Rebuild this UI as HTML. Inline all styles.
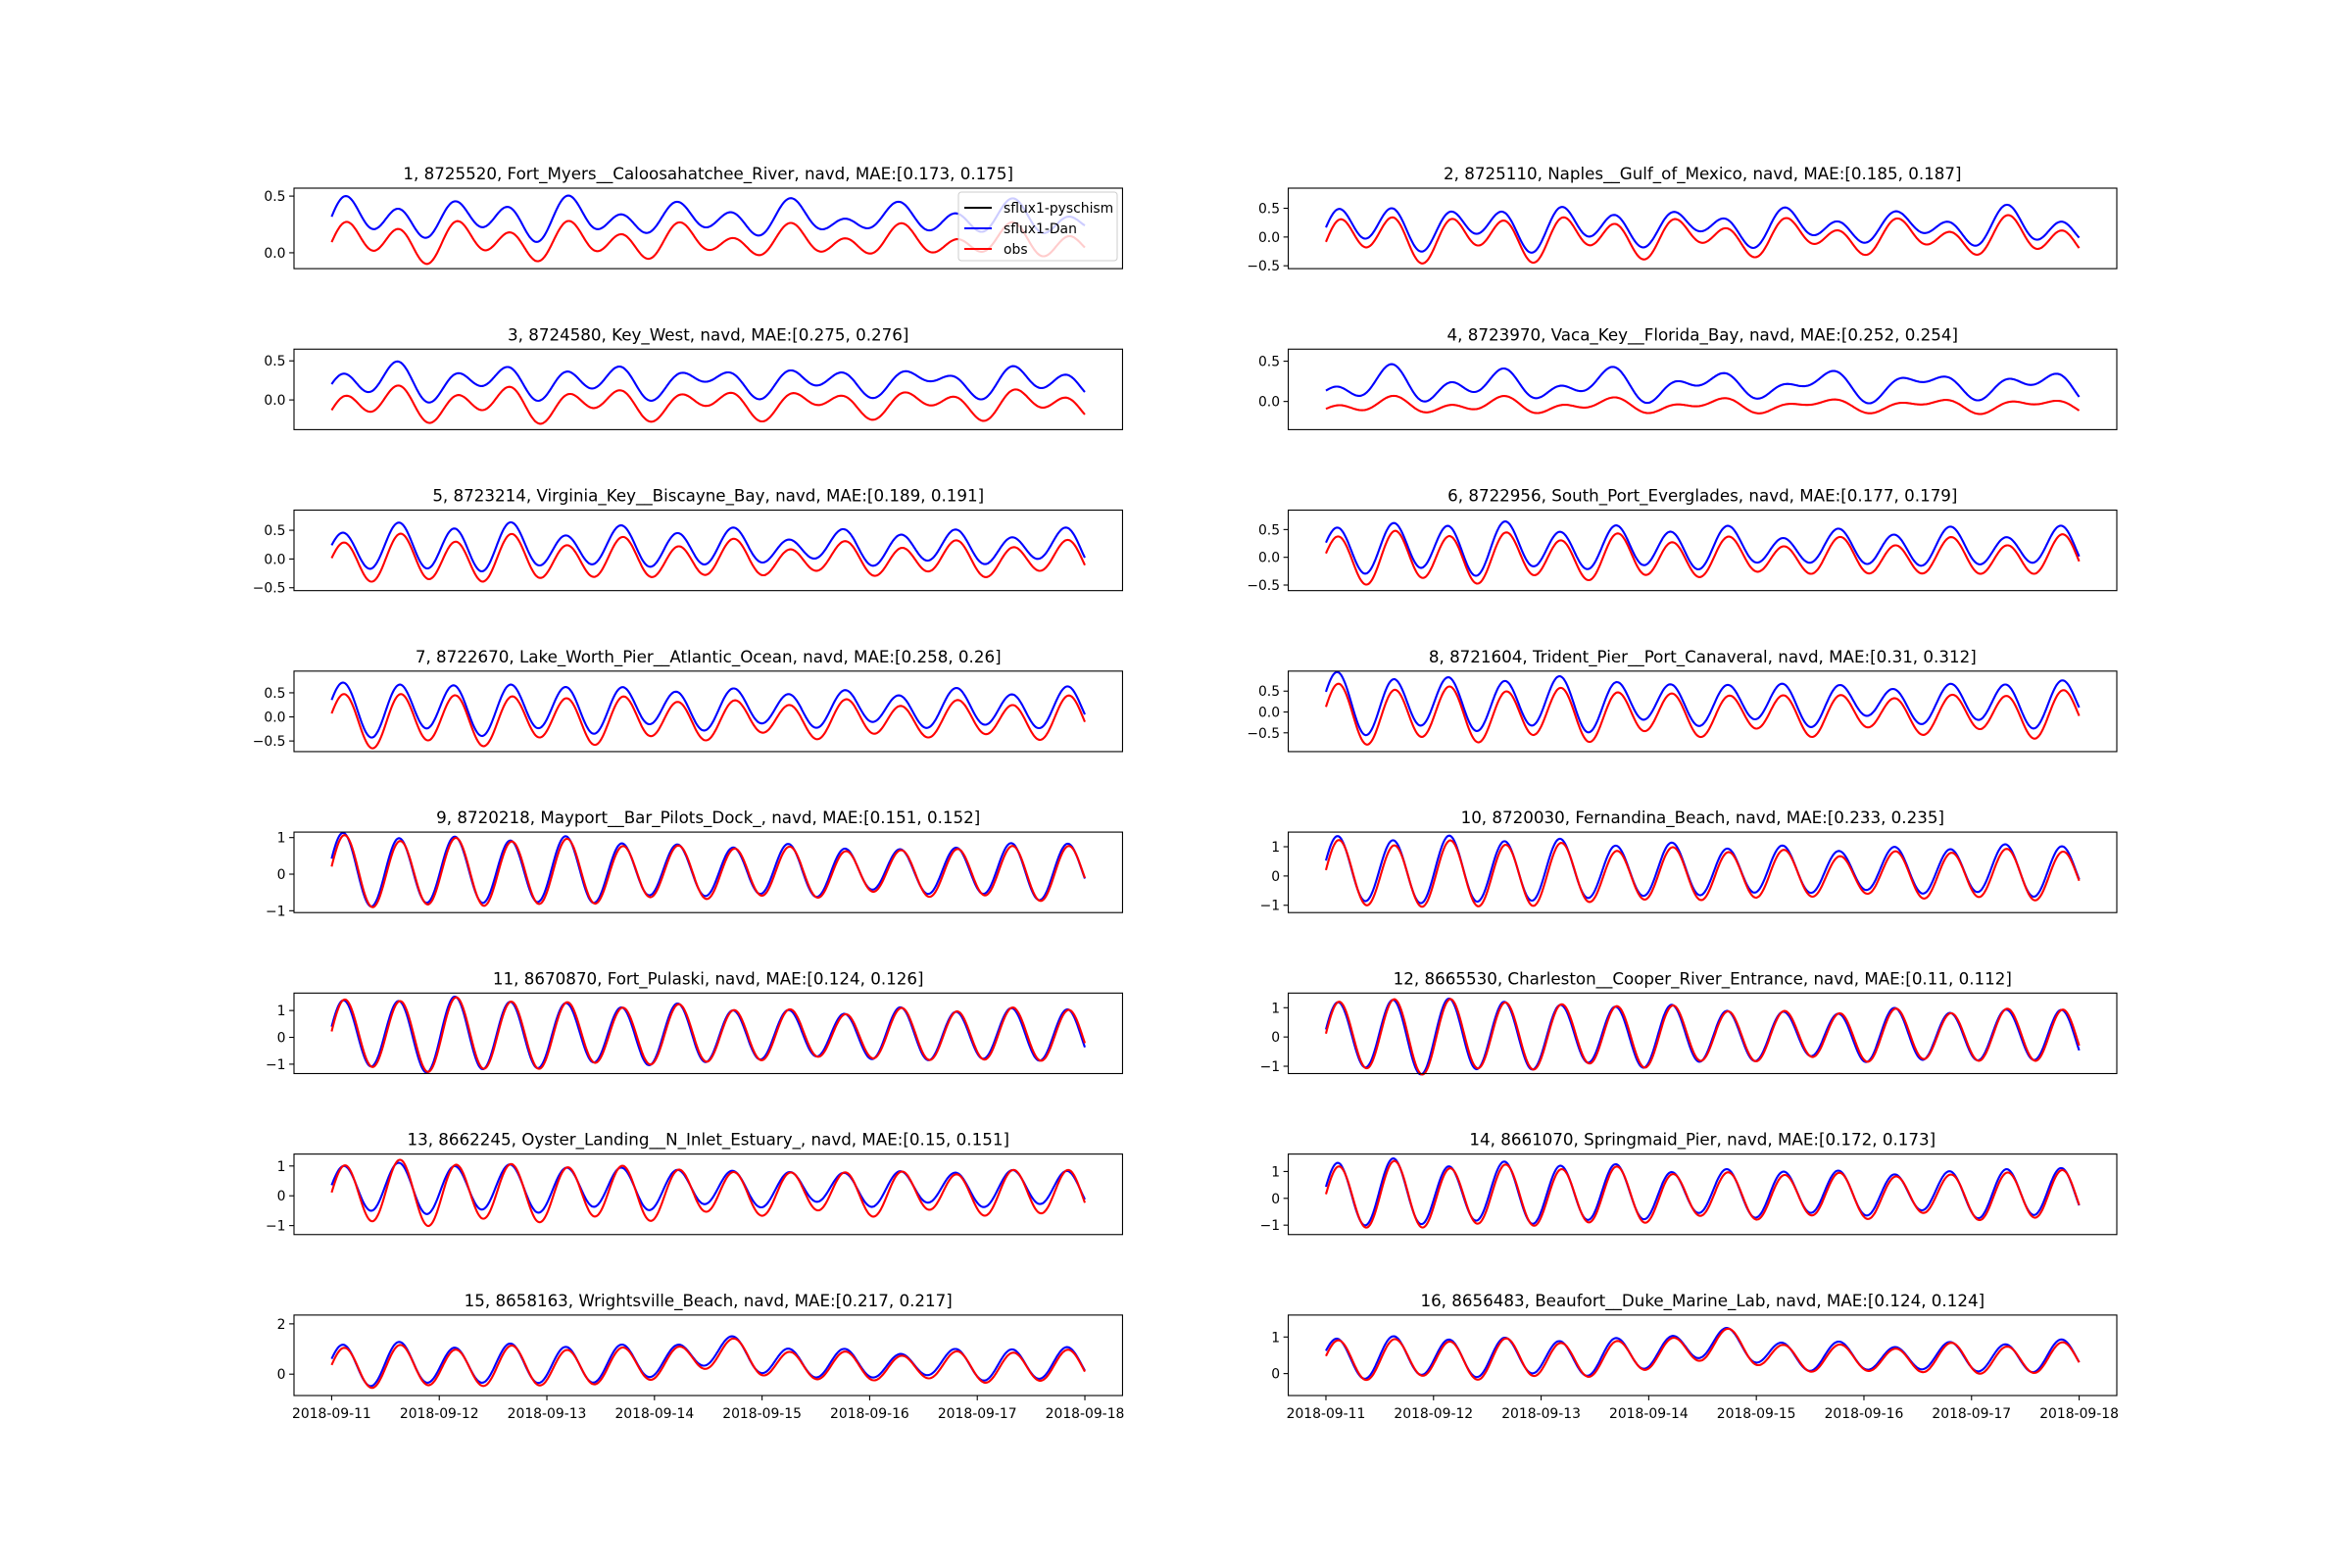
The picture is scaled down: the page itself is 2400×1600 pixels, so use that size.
<!DOCTYPE html>
<html><head><meta charset="utf-8"><style>
html,body{margin:0;padding:0;background:#fff;}
svg{display:block;}
text{font-family:"DejaVu Sans","Liberation Sans",sans-serif;}
</style></head><body>
<svg id="s" width="2400" height="1600" xmlns="http://www.w3.org/2000/svg"></svg>
<script>
var titles=[
"1, 8725520, Fort_Myers__Caloosahatchee_River, navd, MAE:[0.173, 0.175]",
"2, 8725110, Naples__Gulf_of_Mexico, navd, MAE:[0.185, 0.187]",
"3, 8724580, Key_West, navd, MAE:[0.275, 0.276]",
"4, 8723970, Vaca_Key__Florida_Bay, navd, MAE:[0.252, 0.254]",
"5, 8723214, Virginia_Key__Biscayne_Bay, navd, MAE:[0.189, 0.191]",
"6, 8722956, South_Port_Everglades, navd, MAE:[0.177, 0.179]",
"7, 8722670, Lake_Worth_Pier__Atlantic_Ocean, navd, MAE:[0.258, 0.26]",
"8, 8721604, Trident_Pier__Port_Canaveral, navd, MAE:[0.31, 0.312]",
"9, 8720218, Mayport__Bar_Pilots_Dock_, navd, MAE:[0.151, 0.152]",
"10, 8720030, Fernandina_Beach, navd, MAE:[0.233, 0.235]",
"11, 8670870, Fort_Pulaski, navd, MAE:[0.124, 0.126]",
"12, 8665530, Charleston__Cooper_River_Entrance, navd, MAE:[0.11, 0.112]",
"13, 8662245, Oyster_Landing__N_Inlet_Estuary_, navd, MAE:[0.15, 0.151]",
"14, 8661070, Springmaid_Pier, navd, MAE:[0.172, 0.173]",
"15, 8658163, Wrightsville_Beach, navd, MAE:[0.217, 0.217]",
"16, 8656483, Beaufort__Duke_Marine_Lab, navd, MAE:[0.124, 0.124]"];
var P=[
[-0.14,0.57,[0,0.5],0.1,0.13,0.07,0.2,1.0,1],
[-0.55,0.85,[-0.5,0,0.5],0.0,0.3,0.15,0.17,0.95,1],
[-0.38,0.65,[0,0.5],-0.05,0.16,0.1,0.28,1.0,1],
[-0.35,0.65,[0,0.5],-0.05,0.06,0.06,0.25,2.0,1],
[-0.55,0.85,[-0.5,0,0.5],0.0,0.35,0.08,0.2,1.0,1],
[-0.6,0.85,[-0.5,0,0.5],0.0,0.4,0.08,0.17,1.0,1],
[-0.72,0.95,[-0.5,0,0.5],-0.05,0.48,0.08,0.22,1.0,1],
[-0.95,0.98,[-0.5,0,0.5],-0.05,0.6,0.1,0.25,1.0,1],
[-1.05,1.15,[-1,0,1],0.05,0.88,0.06,0.05,1.0,0],
[-1.25,1.5,[-1,0,1],0.05,1.05,0.08,0.15,1.0,0],
[-1.35,1.65,[-1,0,1],0.1,1.25,0.08,0.0,1.0,0],
[-1.25,1.5,[-1,0,1],0.05,1.15,0.08,0.0,1.0,0],
[-1.3,1.4,[-1,0,1],0.1,0.95,0.1,0.15,0.8,0],
[-1.35,1.65,[-1,0,1],0.1,1.1,0.1,0.1,1.0,0],
[-0.85,2.35,[0,2],0.3,0.75,0.08,0.1,1.0,0],
[-0.6,1.6,[0,1],0.4,0.5,0.06,0.05,1.0,0]];
var S=document.getElementById('s'),out='';
var W=845.45,H=82.13;
function fmt(v,f){return f?(v<0?'\u2212':'')+Math.abs(v).toFixed(1):(v<0?'\u2212':'')+Math.abs(v).toFixed(0);}
for(var i=0;i<16;i++){
 var r=Math.floor(i/2),c=i%2,L=c?1314.55:300,T=192+r*164.27,p=P[i];
 var ylo=p[0],yhi=p[1];
 function Y(v){return T+H-(v-ylo)/(yhi-ylo)*H;}
 function X(d){return L+(d+0.35)/7.7*W;}
 var red='',blue='';
 function sig(t){
  var env=0.88+0.18*Math.cos(2*Math.PI*(t-0.5)/9)+0.04*Math.sin(i+t*3);
  var o=p[3]+p[4]*env*Math.cos(2*Math.PI*(t-0.12)/0.5175)+p[5]*Math.cos(2*Math.PI*(t-0.3-0.1*i)/1.0);
  if(i==14){o+=0.5*Math.exp(-Math.pow((t-3.6)/0.5,2));}
  if(i==15){o+=0.4*Math.exp(-Math.pow((t-3.6)/0.5,2));}
  return o;}
 for(var k=0;k<=700;k++){
  var t=k/100;
  var o=sig(t),o2=sig(t+0.012);
  var m=p[3]+p[6]+(o2-p[3])*p[7]+0.03*Math.sin(t*9+i);
  red+=(k?'L':'M')+X(t).toFixed(1)+' '+Y(o).toFixed(1);
  blue+=(k?'L':'M')+X(t).toFixed(1)+' '+Y(m).toFixed(1);
 }
 out+='<path d="'+blue+'" fill="none" stroke="#0000ff" stroke-width="2.1"/>';
 out+='<path d="'+red+'" fill="none" stroke="#ff0000" stroke-width="2.1"/>';
 out+='<rect x="'+L+'" y="'+T+'" width="'+W+'" height="'+H+'" fill="none" stroke="#000" stroke-width="1.1"/>';
 p[2].forEach(function(v){var y=Y(v);
  out+='<line x1="'+(L-4.9)+'" x2="'+L+'" y1="'+y+'" y2="'+y+'" stroke="#000" stroke-width="1.1"/>';
  out+='<text x="'+(L-8.5)+'" y="'+(y+5)+'" font-size="13.9" text-anchor="end">'+fmt(v,p[8])+'</text>';});
 if(r==7) for(var d=0;d<=7;d++){var x=X(d);
  out+='<line x1="'+x+'" x2="'+x+'" y1="'+(T+H)+'" y2="'+(T+H+4.9)+'" stroke="#000" stroke-width="1.1"/>';
  out+='<text x="'+x+'" y="'+(T+H+23)+'" font-size="13.9" text-anchor="middle">2018-09-'+(11+d)+'</text>';}
 out+='<text x="'+(L+W/2)+'" y="'+(T-9)+'" font-size="16.7" text-anchor="middle">'+titles[i]+'</text>';
}
out+='<rect x="978" y="196" width="162" height="70" rx="3" fill="#fff" fill-opacity="0.8" stroke="#ccc"/>';
var lg=[['#000','sflux1-pyschism'],['#0000ff','sflux1-Dan'],['#ff0000','obs']];
for(var j=0;j<3;j++){var y=212+j*21;
 out+='<line x1="984" x2="1012" y1="'+y+'" y2="'+y+'" stroke="'+lg[j][0]+'" stroke-width="2.1"/>';
 out+='<text x="1024" y="'+(y+5)+'" font-size="13.9">'+lg[j][1]+'</text>';}
S.innerHTML=out;
</script>
</body></html>
